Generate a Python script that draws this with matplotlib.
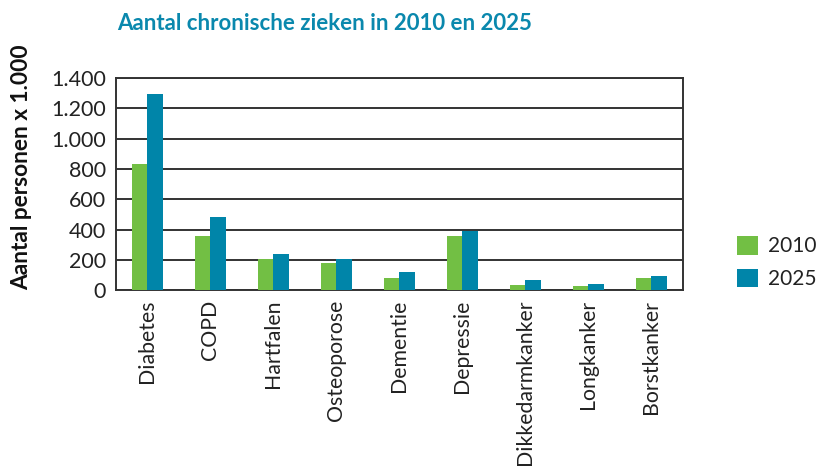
import matplotlib.pyplot as plt
import numpy as np

plt.rcParams['font.family'] = ['Lato', 'DejaVu Sans']

categories = ['Diabetes', 'COPD', 'Hartfalen', 'Osteoporose', 'Dementie',
              'Depressie', 'Dikkedarmkanker', 'Longkanker', 'Borstkanker']
vals_2010 = [832, 357, 205, 178, 79, 357, 33, 26, 79]
vals_2025 = [1294, 482, 238, 203, 119, 390, 66, 40, 92]
yticks = [0, 200, 400, 600, 800, 1000, 1200, 1400]
ytick_labels = ['0', '200', '400', '600', '800', '1.000', '1.200', '1.400']

green = '#72bf44'
blue = '#0085a9'

fig = plt.figure(figsize=(8.16, 4.68), dpi=100)
ax = fig.add_axes([0.142, 0.380, 0.695, 0.453])

x = np.arange(len(categories))
w = 0.25
ax.bar(x - w / 2, vals_2010, w, color=green, label='2010', zorder=3)
ax.bar(x + w / 2, vals_2025, w, color=blue, label='2025', zorder=3)

ax.set_xlim(-0.5, len(categories) - 0.5)
ax.set_ylim(0, 1400)
ax.set_yticks(yticks)
ax.set_yticklabels(ytick_labels, fontsize=15.5, color='#222222')
ax.set_xticks(x)
ax.set_xticklabels(categories, rotation=90, fontsize=15.3, color='#222222')
ax.tick_params(axis='both', length=0, pad=7)
ax.grid(axis='y', color='#333333', linewidth=1.4, zorder=1)

for s in ax.spines.values():
    s.set_color('#333333')
    s.set_linewidth(1.4)

ax.set_ylabel('Aantal personen x 1.000', fontsize=16.3, fontweight='bold',
              color='#111111')
ax.yaxis.set_label_coords(-0.148, 0.58)

fig.text(0.143, 0.950, 'Aantal chronische zieken in 2010 en 2025',
         fontsize=16, fontweight='bold', color='#0a88ad', ha='left', va='center')

leg = ax.legend(loc='center left', bbox_to_anchor=(1.077, 0.13), frameon=False,
                fontsize=15, handlelength=1.0, handleheight=1.0,
                handletextpad=0.5, labelspacing=0.6, borderpad=0)
for t in leg.get_texts():
    t.set_color('#222222')

fig.savefig('out.png', dpi=100)
